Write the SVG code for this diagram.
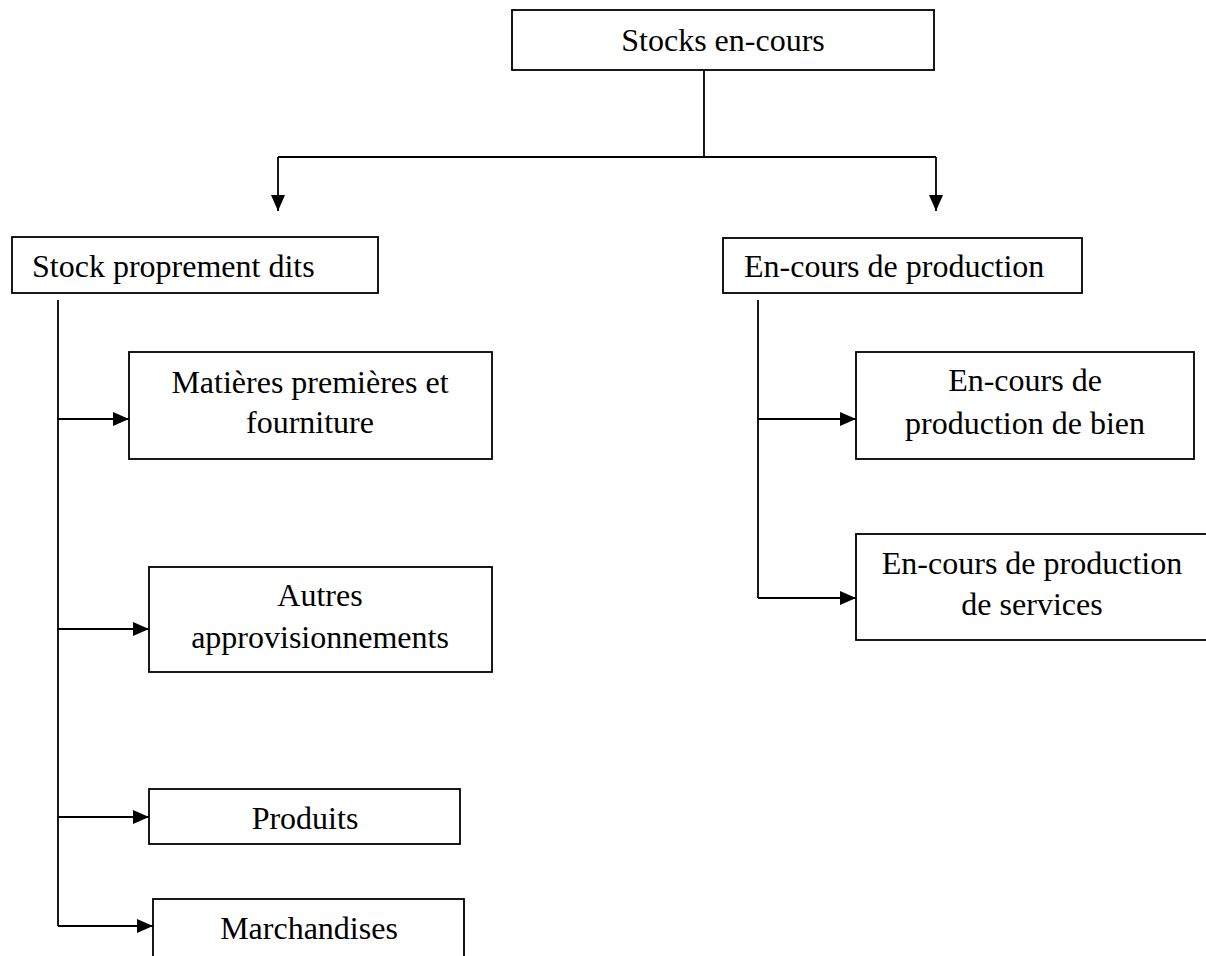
<svg xmlns="http://www.w3.org/2000/svg" width="1206" height="956" viewBox="0 0 1206 956">
  <style>
    .box { fill: #ffffff; stroke: #000000; stroke-width: 1.8; }
    .lbl { font-family: "Liberation Serif", "Times New Roman", serif; font-size: 32px; fill: #000000; }
    .mid { text-anchor: middle; }
    .wire { fill: none; stroke: #000000; stroke-width: 1.8; }
  </style>
  <defs>
    <marker id="head" viewBox="0 0 16 14" refX="16" refY="7" markerWidth="16" markerHeight="14" markerUnits="userSpaceOnUse" orient="auto">
      <path d="M0,0 L16,7 L0,14 Z" fill="#000000"/>
    </marker>
  </defs>
  <rect width="1206" height="956" fill="#ffffff"/>

  <!-- connectors -->
  <g id="connectors">
    <path class="wire" d="M704,70 V157"/>
    <path class="wire" d="M278,157 H936"/>
    <path class="wire" d="M278,157 V211" marker-end="url(#head)"/>
    <path class="wire" d="M936,157 V211" marker-end="url(#head)"/>
    <path class="wire" d="M58,300 V926"/>
    <path class="wire" d="M58,419 H129" marker-end="url(#head)"/>
    <path class="wire" d="M58,629 H149" marker-end="url(#head)"/>
    <path class="wire" d="M58,817 H149" marker-end="url(#head)"/>
    <path class="wire" d="M58,926 H153" marker-end="url(#head)"/>
    <path class="wire" d="M758,300 V598"/>
    <path class="wire" d="M758,419 H856" marker-end="url(#head)"/>
    <path class="wire" d="M758,598 H856" marker-end="url(#head)"/>
  </g>

  <!-- root -->
  <g id="stocks-en-cours">
    <rect class="box" x="512" y="10" width="422" height="60"/>
    <text class="lbl mid" x="723" y="51">Stocks en-cours</text>
  </g>

  <!-- left branch -->
  <g id="stock-proprement-dits">
    <rect class="box" x="12" y="237" width="366" height="56"/>
    <text class="lbl" x="32" y="277">Stock proprement dits</text>
  </g>
  <g id="matieres-premieres">
    <rect class="box" x="129" y="352" width="363" height="107"/>
    <text class="lbl mid" x="310" y="393">Matières premières et</text>
    <text class="lbl mid" x="310" y="433">fourniture</text>
  </g>
  <g id="autres-approvisionnements">
    <rect class="box" x="149" y="567" width="343" height="105"/>
    <text class="lbl mid" x="320" y="606">Autres</text>
    <text class="lbl mid" x="320" y="648">approvisionnements</text>
  </g>
  <g id="produits">
    <rect class="box" x="149" y="789" width="311" height="55"/>
    <text class="lbl mid" x="305" y="829">Produits</text>
  </g>
  <g id="marchandises">
    <rect class="box" x="153" y="899" width="311" height="70"/>
    <text class="lbl mid" x="309" y="939">Marchandises</text>
  </g>

  <!-- right branch -->
  <g id="en-cours-production">
    <rect class="box" x="723" y="238" width="359" height="55"/>
    <text class="lbl" x="744" y="277">En-cours de production</text>
  </g>
  <g id="en-cours-bien">
    <rect class="box" x="856" y="352" width="338" height="107"/>
    <text class="lbl mid" x="1025" y="391">En-cours de</text>
    <text class="lbl mid" x="1025" y="434">production de bien</text>
  </g>
  <g id="en-cours-services">
    <rect class="box" x="856" y="534" width="360" height="106"/>
    <text class="lbl mid" x="1032" y="574">En-cours de production</text>
    <text class="lbl mid" x="1032" y="615">de services</text>
  </g>
</svg>
